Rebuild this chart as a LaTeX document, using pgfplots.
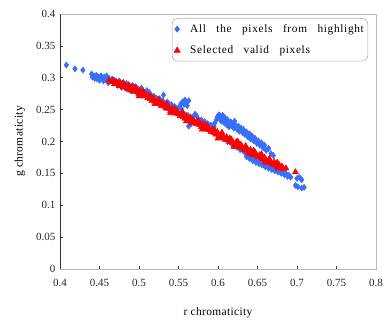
\documentclass[border=0pt]{standalone}
\usepackage{pgfplots}
\pgfplotsset{compat=1.18}
\usepackage{fontspec}
\setmainfont{Liberation Serif}
\newfontfamily\legfont[LetterSpace=6,WordSpace=3]{Liberation Serif}
\newfontfamily\labfont[LetterSpace=3]{Liberation Serif}
\definecolor{bluept}{RGB}{55,110,250}
\definecolor{redpt}{RGB}{255,0,0}
\begin{document}
\begin{tikzpicture}
\useasboundingbox (-60pt,-51pt) rectangle (325pt,269pt);
\begin{axis}[
  at={(0pt,0pt)}, anchor=south west,
  scale only axis, width=316pt, height=255pt,
  xmin=0.4, xmax=0.8, ymin=0, ymax=0.4,
  xtick={0.4,0.45,0.5,0.55,0.6,0.65,0.7,0.75,0.8},
  ytick={0,0.05,0.1,0.15,0.2,0.25,0.3,0.35,0.4},
  xticklabels={0.4,0.45,0.5,0.55,0.6,0.65,0.7,0.75,0.8},
  yticklabels={0,0.05,0.1,0.15,0.2,0.25,0.3,0.35,0.4},
  /pgf/number format/assume math mode=true,
  tick align=inside, xtick pos=bottom, ytick pos=left,
  major tick length=3pt,
  tick style={black!75, line width=0.6pt},
  axis line style={draw=gray!55, line width=0.6pt},
  tick label style={font=\fontsize{11}{13}\selectfont, text=black!85},
  xticklabel style={yshift=-7pt},
  yticklabel style={xshift=-1pt},
  xlabel={\labfont r chromaticity},
  ylabel={\labfont g chromaticity},
  label style={font=\fontsize{11.5}{13}\selectfont},
  xlabel style={at={(axis description cs:0.5,0)}, anchor=center, yshift=-44pt},
  ylabel style={at={(axis description cs:0,0.5)}, anchor=center, yshift=40pt},
  legend cell align=left,
  legend style={at={(0.975,0.984)}, anchor=north east, rounded corners=6pt,
    draw=gray!65, line width=0.6pt, font=\legfont\fontsize{11.3}{13}\selectfont,
    inner xsep=2pt, inner ysep=4pt, row sep=8pt},
]
\draw[black!80, line width=0.8pt] (rel axis cs:0,1) -- (rel axis cs:0,0) -- (rel axis cs:1,0);
\addplot[only marks, mark=diamond*, mark size=3.1pt, color=bluept, mark options={fill=bluept, draw=bluept}] coordinates {
(0.408,0.320)(0.419,0.314)(0.429,0.312)
(0.440,0.306)(0.441,0.301)(0.443,0.303)(0.444,0.299)(0.446,0.304)(0.447,0.298)(0.449,0.301)(0.450,0.296)(0.452,0.303)(0.453,0.299)(0.455,0.295)(0.456,0.301)(0.458,0.297)(0.459,0.303)(0.461,0.292)(0.462,0.299)(0.464,0.295)(0.466,0.298)(0.468,0.292)(0.469,0.296)
(0.471,0.293)(0.473,0.288)(0.475,0.295)(0.477,0.290)(0.478,0.285)(0.480,0.292)(0.482,0.287)(0.484,0.291)(0.485,0.282)(0.487,0.289)(0.489,0.285)(0.490,0.279)(0.492,0.288)(0.494,0.283)(0.496,0.286)(0.497,0.277)(0.499,0.282)(0.501,0.279)(0.503,0.284)(0.504,0.272)(0.506,0.278)(0.508,0.275)(0.510,0.280)(0.512,0.270)(0.513,0.277)(0.515,0.273)(0.517,0.266)(0.519,0.271)(0.521,0.264)(0.522,0.268)
(0.524,0.262)(0.526,0.267)(0.528,0.259)(0.530,0.264)(0.531,0.273)(0.533,0.260)(0.535,0.255)(0.536,0.262)(0.538,0.257)(0.540,0.252)(0.541,0.258)(0.543,0.250)(0.545,0.255)(0.547,0.247)(0.548,0.252)
(0.551,0.254)(0.553,0.259)(0.555,0.262)(0.557,0.258)(0.558,0.265)(0.560,0.262)(0.561,0.256)(0.563,0.264)(0.554,0.250)
(0.550,0.244)(0.553,0.240)(0.556,0.245)(0.559,0.238)(0.562,0.241)(0.564,0.233)(0.563,0.224)(0.566,0.228)(0.568,0.238)(0.571,0.243)(0.573,0.240)(0.575,0.235)(0.577,0.229)(0.579,0.234)(0.581,0.226)(0.583,0.231)(0.585,0.223)(0.587,0.228)(0.589,0.220)(0.591,0.226)(0.593,0.218)(0.595,0.223)(0.597,0.214)
(0.596,0.229)(0.598,0.234)(0.599,0.238)(0.601,0.242)(0.602,0.236)(0.603,0.240)(0.604,0.232)(0.605,0.238)(0.606,0.241)(0.607,0.235)(0.608,0.229)(0.609,0.237)(0.610,0.232)(0.611,0.226)(0.612,0.234)(0.613,0.229)(0.614,0.223)(0.616,0.231)(0.617,0.225)(0.619,0.228)(0.620,0.221)(0.621,0.232)(0.622,0.226)(0.624,0.219)(0.626,0.224)(0.627,0.216)(0.629,0.221)
(0.631,0.214)(0.632,0.219)(0.634,0.211)(0.636,0.215)(0.638,0.207)(0.640,0.212)(0.641,0.204)(0.643,0.209)(0.645,0.201)(0.647,0.205)(0.649,0.197)(0.651,0.201)(0.653,0.194)(0.655,0.198)(0.657,0.190)(0.659,0.194)(0.661,0.186)(0.664,0.189)(0.667,0.181)(0.670,0.178)
(0.600,0.212)(0.604,0.207)(0.608,0.205)(0.612,0.200)(0.616,0.198)(0.620,0.193)(0.624,0.191)(0.628,0.187)(0.632,0.185)(0.635,0.181)
(0.636,0.176)(0.638,0.180)(0.640,0.173)(0.642,0.177)(0.644,0.170)(0.646,0.174)(0.648,0.167)(0.650,0.172)(0.652,0.165)(0.654,0.169)(0.656,0.163)(0.658,0.167)(0.660,0.160)(0.662,0.164)(0.664,0.158)(0.666,0.162)(0.668,0.156)(0.670,0.160)(0.672,0.154)(0.674,0.157)(0.676,0.152)(0.678,0.155)(0.680,0.150)(0.682,0.153)(0.684,0.148)(0.686,0.150)(0.688,0.145)(0.690,0.147)(0.692,0.144)
(0.700,0.142)(0.703,0.144)(0.706,0.140)(0.698,0.131)(0.701,0.129)(0.706,0.127)(0.709,0.128)
};
\addlegendentry{\hspace*{8pt}All the pixels from highlight}
\addplot[only marks, mark=triangle*, mark size=3.5pt, color=redpt, mark options={fill=redpt, draw=redpt}] coordinates {
(0.462,0.296)(0.465,0.293)(0.467,0.296)(0.469,0.290)(0.471,0.294)(0.473,0.291)(0.475,0.287)(0.476,0.292)(0.478,0.289)(0.480,0.285)(0.481,0.290)(0.483,0.287)(0.485,0.283)(0.487,0.288)(0.488,0.284)(0.490,0.280)(0.491,0.286)(0.493,0.282)(0.494,0.278)(0.496,0.283)(0.498,0.279)(0.500,0.275)(0.501,0.280)(0.503,0.276)(0.505,0.272)(0.507,0.276)(0.509,0.271)(0.511,0.268)(0.512,0.272)(0.514,0.267)(0.516,0.264)(0.518,0.268)(0.520,0.263)(0.522,0.260)(0.524,0.264)(0.526,0.259)(0.528,0.256)(0.530,0.260)(0.532,0.255)(0.534,0.252)(0.536,0.256)(0.538,0.251)(0.540,0.248)(0.542,0.252)(0.544,0.247)(0.546,0.244)(0.548,0.248)(0.550,0.243)(0.552,0.240)(0.554,0.244)(0.556,0.239)(0.558,0.236)(0.560,0.240)(0.562,0.235)(0.564,0.232)(0.566,0.236)(0.567,0.229)(0.569,0.233)(0.571,0.230)(0.573,0.227)(0.575,0.231)(0.577,0.226)(0.579,0.223)(0.581,0.227)(0.583,0.222)(0.585,0.219)(0.587,0.223)(0.589,0.218)(0.591,0.215)(0.593,0.219)(0.595,0.214)(0.597,0.211)(0.599,0.215)(0.601,0.210)(0.603,0.207)(0.605,0.211)(0.607,0.206)(0.609,0.203)(0.611,0.207)(0.613,0.202)(0.615,0.199)(0.617,0.203)(0.619,0.198)(0.621,0.195)(0.623,0.199)(0.625,0.194)(0.627,0.191)(0.629,0.195)(0.631,0.190)(0.633,0.187)(0.635,0.191)(0.637,0.186)(0.639,0.183)(0.641,0.187)(0.643,0.182)(0.645,0.179)(0.647,0.183)(0.649,0.178)(0.651,0.176)(0.653,0.179)(0.655,0.174)(0.657,0.172)(0.659,0.175)(0.661,0.170)(0.663,0.168)(0.665,0.171)(0.667,0.166)(0.669,0.164)(0.671,0.168)(0.673,0.163)(0.675,0.161)(0.677,0.164)(0.679,0.159)(0.681,0.161)(0.683,0.157)(0.686,0.158)(0.698,0.152)
(0.480,0.292)(0.495,0.285)(0.505,0.279)(0.515,0.270)(0.525,0.266)(0.535,0.259)(0.545,0.251)(0.555,0.246)(0.565,0.238)(0.575,0.233)(0.585,0.226)(0.595,0.219)(0.605,0.214)(0.615,0.205)(0.625,0.200)(0.635,0.193)(0.645,0.186)(0.655,0.180)(0.665,0.173)(0.675,0.167)
(0.500,0.271)(0.520,0.259)(0.540,0.245)(0.560,0.232)(0.580,0.219)(0.600,0.205)(0.620,0.192)(0.640,0.180)(0.660,0.167)(0.676,0.158)
};
\addlegendentry{\hspace*{8pt}Selected valid pixels}
\end{axis}
\end{tikzpicture}
\end{document}
